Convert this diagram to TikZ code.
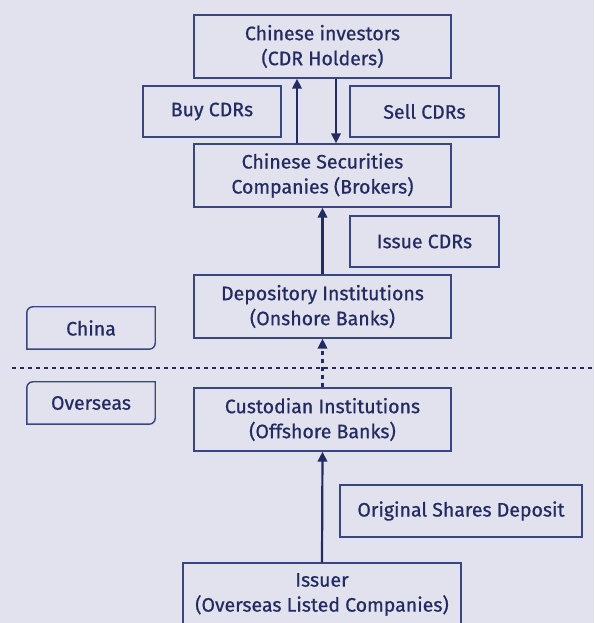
\documentclass[tikz,border=0pt]{standalone}
\usepackage{fontspec}
\setmainfont{Fira Sans}
\newfontfamily\dfont{Fira Sans}[FakeBold=0.7]
\usetikzlibrary{arrows.meta}
\definecolor{bgc}{HTML}{E2E1EE}
\definecolor{navy}{HTML}{222C62}
\definecolor{edge}{HTML}{3A4680}
\begin{document}
\begin{tikzpicture}[x=1pt,y=1pt,
  box/.style={draw=edge, line width=1.4pt, text=navy, align=center, inner sep=0pt,
    font=\dfont\fontsize{19.5}{25}\selectfont},
  tag/.style={text=navy, align=center, inner sep=0pt, font=\dfont\fontsize{19.5}{25}\selectfont},
  arr/.style={draw=navy, line width=2.2pt, -{Triangle[length=10pt,width=9.5pt]}},
  darr/.style={arr, dash pattern=on 4pt off 4pt}]
\fill[bgc] (0,0) rectangle (594,623);
\useasboundingbox (0,0) rectangle (594,623);

\node[box, minimum width=257pt, minimum height=63pt] (inv) at (322.5,576.5) {Chinese investors\\(CDR Holders)};
\node[box, minimum width=138pt, minimum height=51pt] (buy) at (212,511.5) {Buy CDRs};
\node[box, minimum width=149pt, minimum height=51pt] (sell) at (424.5,511.5) {Sell CDRs};
\node[box, minimum width=257pt, minimum height=63pt] (sec) at (322.5,447.5) {Chinese Securities\\Companies (Brokers)};
\node[box, minimum width=149pt, minimum height=51pt] (issue) at (424.5,381.5) {Issue CDRs};
\node[box, minimum width=257pt, minimum height=63pt] (dep) at (322.5,316.5) {Depository Institutions\\(Onshore Banks)};
\node[tag, minimum width=128pt, minimum height=42pt] (china) at (91,295) {China};
\node[tag, minimum width=128pt, minimum height=42pt] (over) at (91,220) {Overseas};
\node[box, minimum width=257pt, minimum height=63pt] (cus) at (322.5,203.5) {Custodian Institutions\\(Offshore Banks)};
\node[box, minimum width=242pt, minimum height=52pt] (osd) at (461,112) {Original Shares Deposit};
\node[box, minimum width=278pt, minimum height=63pt] (iss) at (322,28.5) {Issuer\\(Overseas Listed Companies)};

\foreach \n in {china,over}{
  \draw[edge, line width=1.4pt] (\n.north east) -- ([xshift=6pt]\n.north west)
    arc[start angle=90, end angle=180, radius=6pt] -- (\n.south west)
    -- ([xshift=-6pt]\n.south east) arc[start angle=270, end angle=360, radius=6pt] -- cycle;
}

\coordinate (dl) at (12,255);
\coordinate (dr) at (594,255);
\draw[navy, line width=1.8pt, dash pattern=on 4pt off 4pt] (dl) -- (dr);

\draw[arr] ([xshift=-25.5pt]sec.north) -- ([xshift=-25.5pt]inv.south);
\draw[arr] ([xshift=13.5pt]inv.south) -- ([xshift=13.5pt]sec.north);
\draw[arr] (dep.north) -- (sec.south);
\draw[darr] (cus.north) -- (dep.south);
\draw[arr] (iss.north) -- (cus.south);
\end{tikzpicture}
\end{document}
